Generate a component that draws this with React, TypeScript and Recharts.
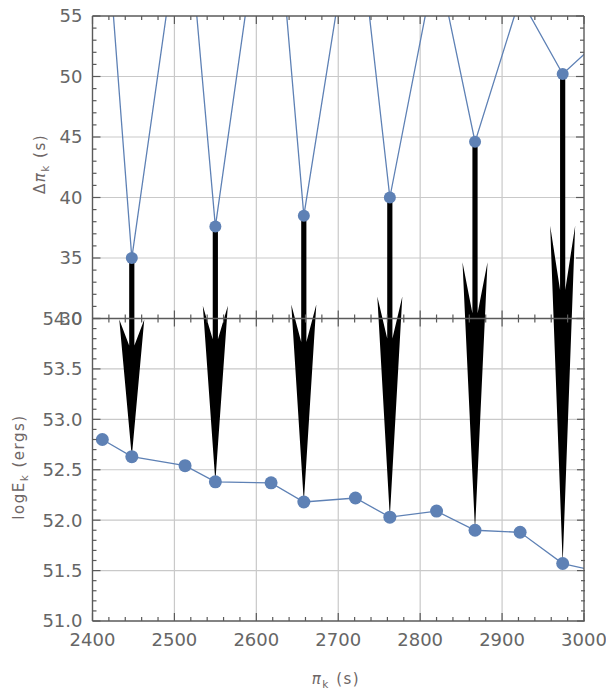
import React from "react";
import {
  ComposedChart,
  Line,
  Bar,
  Scatter,
  XAxis,
  YAxis,
  CartesianGrid,
  ReferenceLine,
} from "recharts";

/* ─── data ─────────────────────────────────────────────────────────────── */
const PERIOD = [2412, 2448, 2513, 2550, 2618, 2658, 2721, 2763, 2820, 2867, 2922, 2974, 3028];
const DELTA_PERIOD = [67.1, 35.0, 66.0, 37.6, 70.1, 38.5, 65.3, 40.0, 59.8, 44.6, 56.5, 50.2, 53.6];
const LOG_ENERGY = [52.8, 52.63, 52.54, 52.38, 52.37, 52.18, 52.22, 52.03, 52.09, 51.9, 51.88, 51.57, 51.47];
const ARROW_AT = [2448, 2550, 2658, 2763, 2867, 2974];

const X_GRID = [2500, 2600, 2700, 2800, 2900];
const DPI_GRID = [35, 40, 45, 50];
const LOGE_GRID = [51.5, 52.0, 52.5, 53.0, 53.5];

/* two panels share one plot area: each y axis spans the full height,
 * the top panel shows dpi 30..55, the bottom panel logE 51..54 */
const DPI_DOMAIN: [number, number] = [5, 55];
const LOGE_DOMAIN: [number, number] = [51, 57];
const DPI_SPLIT = 30;

const BLUE = "#5E81B5";
const FRAME = "#5a5a5a";
const GRID = "#c9c9c9";
const TICK_TEXT = "#666";
const MAJOR_LEN = 8;
const MINOR_LEN = 4;

const steps = (from: number, to: number, step: number) => {
  const out: number[] = [];
  for (let i = 0; from + i * step <= to + 1e-9; i++) out.push(+(from + i * step).toFixed(3));
  return out;
};
const X_TICKS = steps(2400, 3000, 20);
const DPI_TICKS = steps(30, 55, 1);
const LOGE_TICKS = steps(51, 54, 0.1);

// logE value expressed in the top axis units (both axes span the same pixels)
const toDpiUnits = (v: number) =>
  DPI_DOMAIN[0] +
  ((v - LOGE_DOMAIN[0]) * (DPI_DOMAIN[1] - DPI_DOMAIN[0])) / (LOGE_DOMAIN[1] - LOGE_DOMAIN[0]);

const data = PERIOD.map((pi, i) => ({
  pi,
  dpi: DELTA_PERIOD[i],
  loge: LOG_ENERGY[i],
  arrow: ARROW_AT.includes(pi) ? [toDpiUnits(LOG_ENERGY[i]), DELTA_PERIOD[i]] : null,
}));

const sepTicks = X_TICKS.map((pi) => ({ pi, sep: DPI_SPLIT }));

const TICK_FONT = { fontFamily: "DejaVu Sans, sans-serif", fontSize: 18, fill: TICK_TEXT };

const isMultiple = (v: number, step: number) => {
  const r = v / step;
  return Math.abs(r - Math.round(r)) < 1e-6;
};

// plot-area edges (chart margins + 1px axis boxes)
const PLOT_LEFT = 92.5;

/* ── inward ticks, Mathematica frame style ─────────────────────────────── */
function LeftTick(props: any) {
  const { x, y, payload, step, digits } = props;
  const v = payload.value;
  const major = isMultiple(v, step);
  return (
    <g>
      <line
        x1={PLOT_LEFT}
        x2={PLOT_LEFT + (major ? MAJOR_LEN : MINOR_LEN)}
        y1={y}
        y2={y}
        stroke={FRAME}
        strokeWidth={1.2}
      />
      {major && (
        <text x={PLOT_LEFT - 10} y={y} dy="0.36em" textAnchor="end" {...TICK_FONT}>
          {v.toFixed(digits)}
        </text>
      )}
    </g>
  );
}

function RightTick(props: any) {
  const { x, y, payload, step } = props;
  const major = isMultiple(payload.value, step);
  return <line x1={x} x2={x - (major ? MAJOR_LEN : MINOR_LEN)} y1={y} y2={y} stroke={FRAME} strokeWidth={1.2} />;
}

function BottomTick(props: any) {
  const { x, y, payload } = props;
  const major = isMultiple(payload.value, 100);
  return (
    <g>
      <line x1={x} x2={x} y1={y} y2={y - (major ? MAJOR_LEN : MINOR_LEN)} stroke={FRAME} strokeWidth={1.2} />
      {major && (
        <text x={x} y={y + 25} textAnchor="middle" {...TICK_FONT}>
          {payload.value}
        </text>
      )}
    </g>
  );
}

function TopTick(props: any) {
  const { x, y, payload } = props;
  const major = isMultiple(payload.value, 100);
  return <line x1={x} x2={x} y1={y} y2={y + (major ? MAJOR_LEN : MINOR_LEN)} stroke={FRAME} strokeWidth={1.2} />;
}

// ticks on the shared edge between the panels point both ways
function SplitTick(props: any) {
  const { cx, cy, payload } = props;
  const len = isMultiple(payload.pi, 100) ? MAJOR_LEN : MINOR_LEN;
  return <line x1={cx} x2={cx} y1={cy - len} y2={cy + len} stroke={FRAME} strokeWidth={1.2} />;
}

/* arrow from the dpi point (tail) to the logE point (tip), notched head */
function ArrowShape(props: any) {
  const { x, y, width, height, payload } = props;
  if (!payload || !payload.arrow || height == null) return null;
  const cx = x + width / 2;
  const y0 = Math.min(y, y + height);
  const y1 = Math.max(y, y + height);
  const head = (y1 - y0) * 0.69;
  const yb = y1 - head;
  const yn = yb + head * 0.19;
  const hw = 12.5;
  const sw = 2.6;
  const pts = [
    [cx, y1],
    [cx + hw, yb],
    [cx + sw, yn],
    [cx + sw, y0],
    [cx - sw, y0],
    [cx - sw, yn],
    [cx - hw, yb],
  ]
    .map((p) => p.join(","))
    .join(" ");
  return <polygon points={pts} fill="#000" />;
}

export default function App() {
  return (
    <div style={{ position: "absolute", left: 0, top: 0, width: 606, height: 692, background: "#fff" }}>
      <ComposedChart
        width={606}
        height={692}
        data={data}
        margin={{ top: 15, right: 20, bottom: 41, left: PLOT_LEFT - 2 }}
      >
        <CartesianGrid
          yAxisId="dpi"
          stroke={GRID}
          strokeWidth={1.2}
          horizontalValues={DPI_GRID}
          verticalValues={X_GRID}
        />
        <CartesianGrid
          yAxisId="loge"
          stroke={GRID}
          strokeWidth={1.2}
          vertical={false}
          horizontalValues={LOGE_GRID}
        />

        <XAxis
          dataKey="pi"
          type="number"
          domain={[2400, 3000]}
          allowDataOverflow
          ticks={X_TICKS}
          interval={0}
          height={30}
          tickSize={0}
          tickMargin={0}
          tickLine={false}
          axisLine={false}
          tick={(p: any) => <BottomTick {...p} />}
        />
        <XAxis
          xAxisId="top"
          orientation="top"
          dataKey="pi"
          type="number"
          domain={[2400, 3000]}
          allowDataOverflow
          ticks={X_TICKS}
          interval={0}
          height={1}
          tickSize={0}
          tickMargin={0}
          tickLine={false}
          axisLine={false}
          tick={(p: any) => <TopTick {...p} />}
        />
        <YAxis
          yAxisId="dpi"
          type="number"
          domain={DPI_DOMAIN}
          allowDataOverflow
          ticks={DPI_TICKS}
          interval={0}
          width={1}
          tickSize={0}
          tickMargin={0}
          tickLine={false}
          axisLine={false}
          tick={(p: any) => <LeftTick {...p} step={5} digits={0} />}
        />
        <YAxis
          yAxisId="loge"
          type="number"
          domain={LOGE_DOMAIN}
          allowDataOverflow
          ticks={LOGE_TICKS}
          interval={0}
          width={1}
          tickSize={0}
          tickMargin={0}
          tickLine={false}
          axisLine={false}
          tick={(p: any) => <LeftTick {...p} step={0.5} digits={1} />}
        />
        <YAxis
          yAxisId="dpiR"
          orientation="right"
          type="number"
          domain={DPI_DOMAIN}
          allowDataOverflow
          ticks={DPI_TICKS}
          interval={0}
          width={1}
          tickSize={0}
          tickMargin={0}
          tickLine={false}
          axisLine={false}
          tick={(p: any) => <RightTick {...p} step={5} />}
        />
        <YAxis
          yAxisId="logeR"
          orientation="right"
          type="number"
          domain={LOGE_DOMAIN}
          allowDataOverflow
          ticks={LOGE_TICKS}
          interval={0}
          width={1}
          tickSize={0}
          tickMargin={0}
          tickLine={false}
          axisLine={false}
          tick={(p: any) => <RightTick {...p} step={0.5} />}
        />

        <Bar
          yAxisId="dpi"
          dataKey="arrow"
          barSize={26}
          shape={(p: any) => <ArrowShape {...p} />}
          isAnimationActive={false}
        />
        <Line
          yAxisId="dpi"
          dataKey="dpi"
          stroke={BLUE}
          strokeWidth={1.3}
          dot={{ r: 6, fill: BLUE, stroke: "none" }}
          activeDot={false}
          isAnimationActive={false}
        />
        <Line
          yAxisId="loge"
          dataKey="loge"
          stroke={BLUE}
          strokeWidth={1.3}
          dot={{ r: 6.5, fill: BLUE, stroke: "none" }}
          activeDot={false}
          isAnimationActive={false}
        />
        <Scatter
          yAxisId="dpi"
          data={sepTicks}
          dataKey="sep"
          shape={(p: any) => <SplitTick {...p} />}
          isAnimationActive={false}
        />

        {/* frame */}
        <ReferenceLine yAxisId="dpi" x={2400} stroke={FRAME} strokeWidth={1.4} />
        <ReferenceLine yAxisId="dpi" x={3000} stroke={FRAME} strokeWidth={1.4} />
        <ReferenceLine yAxisId="dpi" y={55} stroke={FRAME} strokeWidth={1.4} />
        <ReferenceLine yAxisId="dpi" y={DPI_SPLIT} stroke={FRAME} strokeWidth={1.4} />
        <ReferenceLine yAxisId="loge" y={51} stroke={FRAME} strokeWidth={1.4} />
      </ComposedChart>

      {/* axis titles */}
      <svg
        width={606}
        height={692}
        style={{ position: "absolute", left: 0, top: 0, pointerEvents: "none" }}
        fontFamily="DejaVu Sans, sans-serif"
        fontSize={15}
        fill="#6e6666"
      >
        <text transform="translate(45,164) rotate(-90)" textAnchor="middle" letterSpacing={1.5}>
          Δ<tspan fontStyle="italic">π</tspan>
          <tspan fontSize={10.5} dy={4}>k</tspan>
          <tspan dy={-4}> (s)</tspan>
        </text>
        <text transform="translate(23.5,467) rotate(-90)" textAnchor="middle" letterSpacing={1.5}>
          logE
          <tspan fontSize={10.5} dy={4}>k</tspan>
          <tspan dy={-4}> (ergs)</tspan>
        </text>
        <text x={336} y={684} textAnchor="middle" letterSpacing={1.5}>
          <tspan fontStyle="italic">π</tspan>
          <tspan fontSize={10.5} dy={4}>k</tspan>
          <tspan dy={-4}> (s)</tspan>
        </text>
      </svg>
    </div>
  );
}
